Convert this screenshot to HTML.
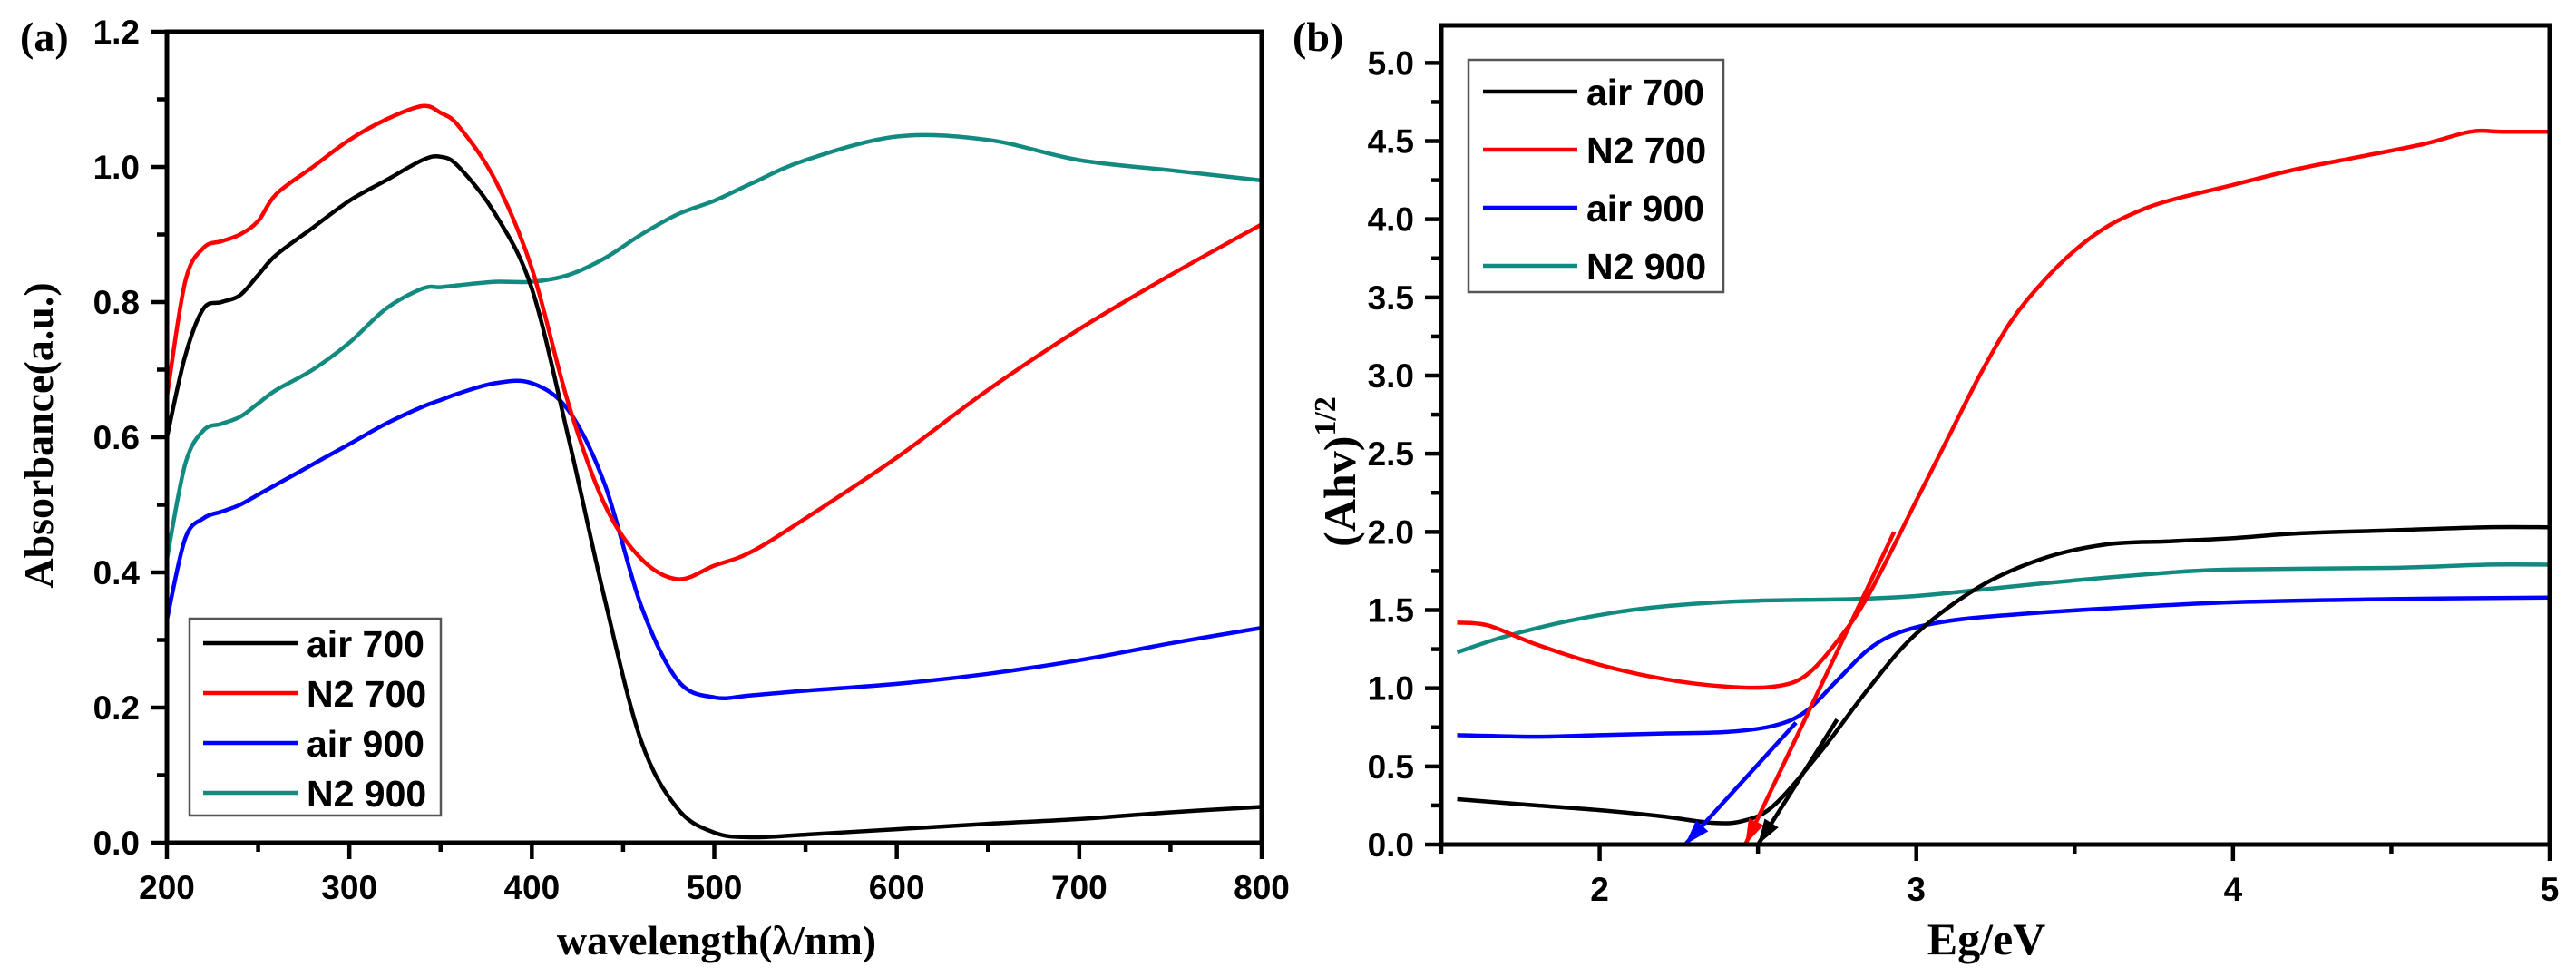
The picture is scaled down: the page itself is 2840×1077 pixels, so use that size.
<!DOCTYPE html>
<html><head><meta charset="utf-8"><style>
html,body{margin:0;padding:0;background:#fff;}
svg{display:block;}
.tk{font-family:"Liberation Sans",Arial,sans-serif;font-weight:bold;font-size:37px;fill:#000;}
.ttl{font-family:"Liberation Serif","Times New Roman",serif;font-weight:bold;fill:#000;}
.lg{font-family:"Liberation Sans",Arial,sans-serif;font-weight:bold;font-size:41px;fill:#000;}
</style></head><body>
<svg id="chart" width="2840" height="1077" viewBox="0 0 2840 1077" xmlns="http://www.w3.org/2000/svg">
<text class="ttl" x="22" y="56" font-size="46" font-weight="normal">(a)</text>
<text class="ttl" x="1425" y="56" font-size="46" font-weight="normal">(b)</text>
<text class="ttl" x="790" y="1052" font-size="46" text-anchor="middle">wavelength(λ/nm)</text>
<text class="ttl" transform="translate(58,480) rotate(-90)" font-size="46" text-anchor="middle">Absorbance(a.u.)</text>
<text class="ttl" x="2190" y="1052" font-size="50" text-anchor="middle">Eg/eV</text>
<text class="ttl" transform="translate(1494,520) rotate(-90)" font-size="50" text-anchor="middle">(Ahv)<tspan font-size="34" dy="-22">1/2</tspan></text>
<g id="ga"></g><g id="gb"></g>
</svg>
<script>
// Panel (a) data
const aX=[200,210,220,230,240,250,260,280,300,320,340,350,360,380,400,420,440,460,480,500,520,550,600,650,700,750,800];
const aAir700=[0.60,0.72,0.79,0.80,0.81,0.84,0.87,0.91,0.95,0.98,1.01,1.015,1.00,0.93,0.82,0.60,0.36,0.15,0.05,0.015,0.008,0.012,0.02,0.028,0.035,0.045,0.053];
const aN2700=[0.66,0.83,0.88,0.89,0.90,0.92,0.96,1.00,1.04,1.07,1.09,1.08,1.06,0.98,0.85,0.65,0.50,0.42,0.39,0.41,0.43,0.48,0.57,0.67,0.76,0.84,0.915];
const aAir900=[0.33,0.45,0.48,0.49,0.50,0.515,0.53,0.56,0.59,0.62,0.645,0.655,0.665,0.68,0.68,0.64,0.53,0.35,0.24,0.215,0.218,0.225,0.235,0.25,0.27,0.295,0.318];
const aN2900=[0.42,0.56,0.61,0.62,0.63,0.65,0.67,0.70,0.74,0.79,0.82,0.822,0.825,0.83,0.83,0.84,0.865,0.90,0.93,0.95,0.975,1.01,1.045,1.04,1.01,0.995,0.98];
const aXTicks=[200,300,400,500,600,700,800];
const aYTicks=[0.0,0.2,0.4,0.6,0.8,1.0,1.2];
// Panel (b) data
const bAir700X=[1.55,1.8,2.0,2.2,2.35,2.45,2.55,2.7,2.85,3.0,3.2,3.4,3.6,3.8,4.0,4.2,4.5,4.8,5.0];
const bAir700Y=[0.29,0.25,0.22,0.18,0.14,0.15,0.25,0.6,1.0,1.35,1.65,1.83,1.92,1.94,1.96,1.99,2.01,2.03,2.03];
const bN2700X=[1.55,1.65,1.8,2.0,2.2,2.4,2.55,2.65,2.75,2.85,3.0,3.1,3.2,3.3,3.4,3.5,3.6,3.7,3.8,4.0,4.2,4.4,4.6,4.75,4.85,5.0];
const bN2700Y=[1.42,1.40,1.28,1.15,1.06,1.01,1.01,1.08,1.30,1.60,2.2,2.6,3.0,3.35,3.6,3.8,3.95,4.05,4.12,4.22,4.32,4.40,4.48,4.56,4.56,4.56];
const bAir900X=[1.55,1.8,2.0,2.2,2.4,2.55,2.65,2.75,2.85,2.95,3.1,3.3,3.6,4.0,4.5,5.0];
const bAir900Y=[0.70,0.69,0.70,0.71,0.72,0.76,0.85,1.05,1.25,1.36,1.43,1.47,1.51,1.55,1.57,1.58];
const bN2900X=[1.55,1.7,1.9,2.1,2.3,2.5,2.8,3.0,3.2,3.5,3.8,4.0,4.5,4.8,5.0];
const bN2900Y=[1.23,1.33,1.43,1.50,1.54,1.56,1.57,1.59,1.63,1.69,1.74,1.76,1.77,1.79,1.79];
const bArrowBlue=[2.62,0.78,2.27,0.0];
const bArrowRed=[2.93,2.0,2.46,0.0];
const bArrowBlack=[2.75,0.8,2.50,0.0];
const bXTicks=[2,3,4,5];
const bYTicks=[0.0,0.5,1.0,1.5,2.0,2.5,3.0,3.5,4.0,4.5,5.0];

const NS="http://www.w3.org/2000/svg";
function mk(parent,tag,attrs){const e=document.createElementNS(NS,tag);for(const k in attrs)e.setAttribute(k,attrs[k]);parent.appendChild(e);return e;}

const A={l:184,r:1391,t:35,b:929,x0:200,x1:800,y0:0,y1:1.2};
const ax=v=>A.l+(v-A.x0)/(A.x1-A.x0)*(A.r-A.l);
const ay=v=>A.b-(v-A.y0)/(A.y1-A.y0)*(A.b-A.t);
const B={l:1589,r:2811,t:28,b:931,x0:1.5,x1:5,y0:0,y1:5.24};
const bx=v=>B.l+(v-B.x0)/(B.x1-B.x0)*(B.r-B.l);
const by=v=>B.b-(v-B.y0)/(B.y1-B.y0)*(B.b-B.t);

function frame(g,P,name){
  const r=mk(g,'rect',{x:P.l,y:P.t,width:P.r-P.l,height:P.b-P.t,fill:'none',stroke:'#000','stroke-width':5});
  
  
}
const ga=document.getElementById('ga'), gb=document.getElementById('gb');

function smoothPath(pts){
  let d='M'+pts[0][0].toFixed(1)+','+pts[0][1].toFixed(1);
  for(let i=0;i<pts.length-1;i++){
    const p0=pts[Math.max(0,i-1)],p1=pts[i],p2=pts[i+1],p3=pts[Math.min(pts.length-1,i+2)];
    const c1x=p1[0]+(p2[0]-p0[0])/6,c1y=p1[1]+(p2[1]-p0[1])/6;
    const c2x=p2[0]-(p3[0]-p1[0])/6,c2y=p2[1]-(p3[1]-p1[1])/6;
    d+=' C'+c1x.toFixed(1)+','+c1y.toFixed(1)+' '+c2x.toFixed(1)+','+c2y.toFixed(1)+' '+p2[0].toFixed(1)+','+p2[1].toFixed(1);
  }
  return d;
}
function series(g,xs,ys,fx,fy,color,name){
  const pts=xs.map((x,i)=>[fx(x),fy(ys[i])]);
  const p=mk(g,'path',{d:smoothPath(pts),fill:'none',stroke:color,'stroke-width':4.5,'stroke-linejoin':'round'});
  
  
}
series(ga,aX,aN2900,ax,ay,'#138a80','line-n2-900-a');
series(ga,aX,aAir900,ax,ay,'#0000ff','line-air-900-a');
series(ga,aX,aN2700,ax,ay,'#ff0000','line-n2-700-a');
series(ga,aX,aAir700,ax,ay,'#000000','line-air-700-a');
frame(ga,A,'plot-frame-a');
for(let v=200;v<=800;v+=50){const maj=(v%100===0);
  const t=mk(ga,'line',{x1:ax(v),x2:ax(v),y1:A.b,y2:A.b+(maj?18:10),stroke:'#000','stroke-width':4.5});
  }
aXTicks.forEach(v=>{const t=mk(ga,'text',{x:ax(v),y:A.b+62,'text-anchor':'middle',class:'tk'});t.textContent=String(v);
  });
for(let i=0;i<=12;i++){const v=i/10;const maj=(i%2===0);
  const t=mk(ga,'line',{x1:A.l,x2:A.l-(maj?18:11),y1:ay(v),y2:ay(v),stroke:'#000','stroke-width':4.5});
  }
aYTicks.forEach(v=>{const t=mk(ga,'text',{x:A.l-30,y:ay(v)+13,'text-anchor':'end',class:'tk'});t.textContent=v.toFixed(1);
  });

series(gb,bN2900X,bN2900Y,bx,by,'#138a80','line-n2-900-b');
series(gb,bAir900X,bAir900Y,bx,by,'#0000ff','line-air-900-b');
series(gb,bAir700X,bAir700Y,bx,by,'#000000','line-air-700-b');
series(gb,bN2700X,bN2700Y,bx,by,'#ff0000','line-n2-700-b');
function arrow(arr,color,name){
  const x1=bx(arr[0]),y1=by(arr[1]),x2=bx(arr[2]),y2=by(arr[3]);
  const l=mk(gb,'line',{x1:x1,y1:y1,x2:x2,y2:y2,stroke:color,'stroke-width':4.5});
  
  const dx=x2-x1,dy=y2-y1,len=Math.hypot(dx,dy),ux=dx/len,uy=dy/len,L=28,W=9;
  const bxp=x2-ux*L,byp=y2-uy*L;
  const h=mk(gb,'polygon',{points:`${x2},${y2} ${bxp-uy*W},${byp+ux*W} ${bxp+uy*W},${byp-ux*W}`,fill:color});
  
}
arrow(bArrowBlue,'#0000ff','tangent-arrow-air-900');
arrow(bArrowRed,'#ff0000','tangent-arrow-n2-700');
arrow(bArrowBlack,'#000000','tangent-arrow-air-700');
frame(gb,B,'plot-frame-b');
for(let i=3;i<=10;i++){const v=i/2;const maj=(i%2===0);
  const t=mk(gb,'line',{x1:bx(v),x2:bx(v),y1:B.b,y2:B.b+(maj?18:10),stroke:'#000','stroke-width':4.5});
  }
bXTicks.forEach(v=>{const t=mk(gb,'text',{x:bx(v),y:B.b+62,'text-anchor':'middle',class:'tk'});t.textContent=String(v);
  });
for(let i=0;i<=20;i++){const v=i/4;const maj=(i%2===0);
  const t=mk(gb,'line',{x1:B.l,x2:B.l-(maj?18:11),y1:by(v),y2:by(v),stroke:'#000','stroke-width':4.5});
  }
bYTicks.forEach(v=>{const t=mk(gb,'text',{x:B.l-30,y:by(v)+13,'text-anchor':'end',class:'tk'});t.textContent=v.toFixed(1);
  });

const legNames=['air 700','N2 700','air 900','N2 900'];
const legColors=['#000000','#ff0000','#0000ff','#138a80'];
function legend(g,x,y,w,h,rowY,lineX,name){
  const r=mk(g,'rect',{x:x,y:y,width:w,height:h,fill:'#fff',stroke:'#555','stroke-width':2.5});
  
  legNames.forEach((n,i)=>{const yy=rowY[i];
    const l=mk(g,'line',{x1:lineX,x2:lineX+104,y1:yy,y2:yy,stroke:legColors[i],'stroke-width':4.5});
    
    const t=mk(g,'text',{x:lineX+114,y:yy+15,class:'lg'});t.textContent=n;
    });
}
legend(ga,209,682,277,217,[709,764,819,874],224,'legend-a');
legend(gb,1619,66,281,256,[101,165,229,293],1635,'legend-b');
</script>
</body></html>
